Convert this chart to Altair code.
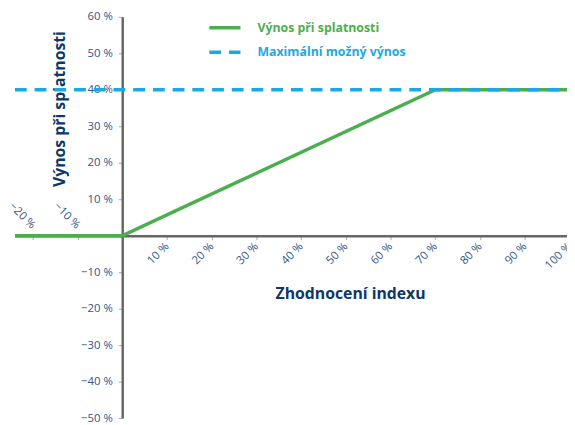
import altair as alt
import pandas as pd

# data
series_green = "Výnos při splatnosti"
series_blue = "Maximální možný výnos"
green_x = [-24, 0, 70, 101]
green_y = [0, 0, 40, 40]
blue_x = [-24, 101]
blue_y = [40, 40]
x_pos_ticks = [-20, -10, 10, 20, 30, 40, 50, 60, 70, 80, 90, 100]
x_neg_labels = [-20, -10]
y_ticks = [-50, -40, -30, -20, -10, 10, 20, 30, 40, 50, 60]
x_domain = [-24, 101]
y_domain = [-50, 60]

df = pd.DataFrame(
    {"x": green_x + blue_x,
     "y": green_y + blue_y,
     "s": [series_green] * len(green_x) + [series_blue] * len(blue_x),
     "o": list(range(len(green_x))) + list(range(len(blue_x)))}
)
df_blue = pd.DataFrame({"x": blue_x, "y": blue_y})

W, H = 560, 407
XR = 567
x_zero = XR * (0 - x_domain[0]) / (x_domain[1] - x_domain[0])
y_zero_from_top = H * (y_domain[1] - 0) / (y_domain[1] - y_domain[0])

FONT = "Open Sans"
LAB = "#34558b"
NAVY = "#0d3868"
GREEN = "#4caf4f"
BLUE = "#1aa9e4"
lab_expr = "replace(format(datum.value, 'd'), '-', '−') + ' %'"
legend_color_expr = "datum.value == '" + series_green + "' ? '" + GREEN + "' : '" + BLUE + "'"

xscale = alt.Scale(domain=x_domain, range=[0, XR], nice=False, zero=False)
yscale = alt.Scale(domain=y_domain, nice=False, zero=False)

lines = alt.Chart(df).mark_line(strokeWidth=3.5, clip=True).encode(
    x=alt.X("x:Q", scale=xscale,
            axis=alt.Axis(orient="bottom", offset=-(H - y_zero_from_top), values=x_pos_ticks,
                          labelExpr="datum.value < 0 ? '' : " + lab_expr,
                          labelAngle=-45, labelAlign="right", labelBaseline="middle",
                          labelPadding=5, tickSize=4, tickColor="#aaaaaa", tickWidth=1,
                          domainColor="#666666", domainWidth=2.5, grid=False,
                          labelFont=FONT, labelFontSize=11.5, labelColor=LAB,
                          title="Zhodnocení indexu", titleFont=FONT, titleFontSize=16,
                          titleFontWeight="bold", titleColor=NAVY, titleX=340, titleY=59,
                          titleAlign="center", titleBaseline="middle", titleAngle=0,
                          labelFlush=False, labelOverlap=False)),
    y=alt.Y("y:Q", scale=yscale,
            axis=alt.Axis(orient="left", offset=-x_zero, values=y_ticks, labelExpr=lab_expr,
                          labelPadding=6, tickSize=4, tickColor="#aaaaaa", tickWidth=1,
                          domainColor="#666666", domainWidth=2.5, grid=False,
                          labelFont=FONT, labelFontSize=11.5, labelColor=LAB,
                          title="Výnos při splatnosti", titleFont=FONT, titleFontSize=16,
                          titleFontWeight="bold", titleColor=NAVY, titleX=-64, titleY=93,
                          titleAlign="center", titleBaseline="middle", titleAngle=270,
                          labelFlush=False, labelOverlap=False)),
    color=alt.Color("s:N", scale=alt.Scale(domain=[series_green, series_blue], range=[GREEN, BLUE]),
                    title=None),
    strokeDash=alt.StrokeDash("s:N", scale=alt.Scale(domain=[series_green, series_blue], range=[[1, 0], [12, 8]]),
                              title=None),
    order="o:Q",
)

neg_axis = alt.Chart(df_blue).mark_line(opacity=0).encode(
    x=alt.X("x:Q", scale=xscale,
            axis=alt.Axis(orient="top", offset=-y_zero_from_top, values=x_neg_labels,
                          labelExpr=lab_expr, labelAngle=45, labelAlign="right",
                          labelBaseline="middle", labelPadding=9, ticks=False, tickSize=0,
                          domain=False, grid=False, labelFont=FONT, labelFontSize=11.5,
                          labelColor=LAB, title=None, labelFlush=False, labelOverlap=False)),
    y=alt.Y("y:Q", scale=yscale, axis=None),
)

chart = alt.layer(lines, neg_axis).resolve_scale(x="independent", y="independent").properties(
    width=W, height=H,
    autosize=alt.AutoSizeParams(type="none"),
    padding={"left": 7, "top": 6, "right": 0, "bottom": 4},
).configure_view(stroke=None).configure_legend(
    orient="none", legendX=195, legendY=-7,
    symbolType="stroke", symbolSize=1000, symbolStrokeWidth=3.5,
    labelFont=FONT, labelFontSize=12.5, labelFontWeight="bold",
    labelColor={"expr": legend_color_expr},
    labelOffset=15, rowPadding=-7, padding=0,
)

chart.save("out.html", embed_options={"renderer": "svg", "actions": False})
